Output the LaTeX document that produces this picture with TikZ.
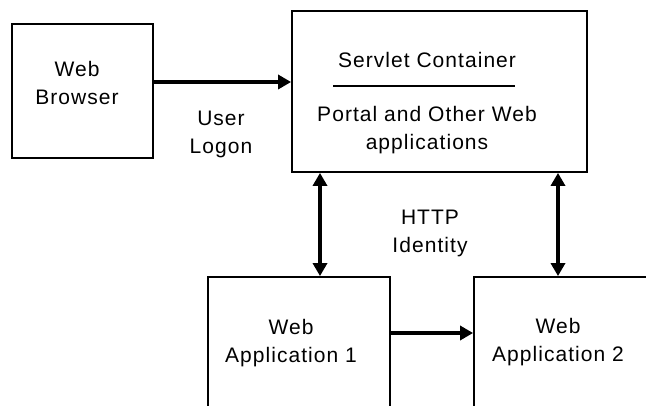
\documentclass[tikz,border=0pt]{standalone}
\usepackage{fontspec}
\setmainfont{Liberation Sans}[LetterSpace=5]
\usetikzlibrary{arrows.meta}
\begin{document}
\begin{tikzpicture}[x=1pt,y=-1pt,
  box/.style={draw, line width=1.8pt, inner sep=0pt},
  lbl/.style={font=\fontsize{21}{28}\selectfont, align=center, inner sep=0pt},
  link/.style={line width=4pt, -{Triangle[length=13pt,width=14pt]}},
  dlink/.style={line width=4pt, {Triangle[length=13pt,width=14pt]}-{Triangle[length=13pt,width=14pt]}}]
\begin{scope}
  \clip (0,0) rectangle (646,406);
  % boxes
  \node[box, minimum width=141pt, minimum height=134pt] (browser) at (82.5,91) {};
  \node[box, minimum width=295pt, minimum height=161pt] (servlet) at (439.5,91.5) {};
  \node[box, minimum width=182pt, minimum height=183pt] (app1) at (299,368.5) {};
  \node[box, minimum width=226pt, minimum height=183pt] (app2) at (587,368.5) {};
  % labels
  \node[lbl] (browserlbl) at (77,83) {Web\\Browser};
  \node[lbl] (servlettitle) at (427,60) {Servlet Container};
  \node[lbl] (servletbody) at (427,130) {Portal and Other Web\\applications};
  \node[lbl] (logon) at (221,134) {User\\Logon};
  \node[lbl] (http) at (430,233) {HTTP\\Identity};
  \node[lbl] (app1lbl) at (291,343) {Web\\Application 1};
  \node[lbl] (app2lbl) at (558,342) {Web\\Application 2};
  % separator inside the servlet container
  \coordinate (sepL) at (333,86);
  \coordinate (sepR) at (515,86);
  \draw[line width=1.6pt] (sepL) -- (sepR);
  % guide coordinates for the connectors
  \coordinate (rowA) at (0,82);
  \coordinate (rowB) at (0,333);
  \coordinate (colA) at (320,0);
  \coordinate (colB) at (558,0);
  % connectors
  \draw[link] (browser.east |- rowA) -- (servlet.west |- rowA);
  \draw[dlink] (servlet.south -| colA) -- (app1.north -| colA);
  \draw[dlink] (servlet.south -| colB) -- (app2.north -| colB);
  \draw[link] (app1.east |- rowB) -- (app2.west |- rowB);
\end{scope}
\pgfresetboundingbox
\useasboundingbox (0,0) rectangle (646,406);
\end{tikzpicture}
\end{document}
